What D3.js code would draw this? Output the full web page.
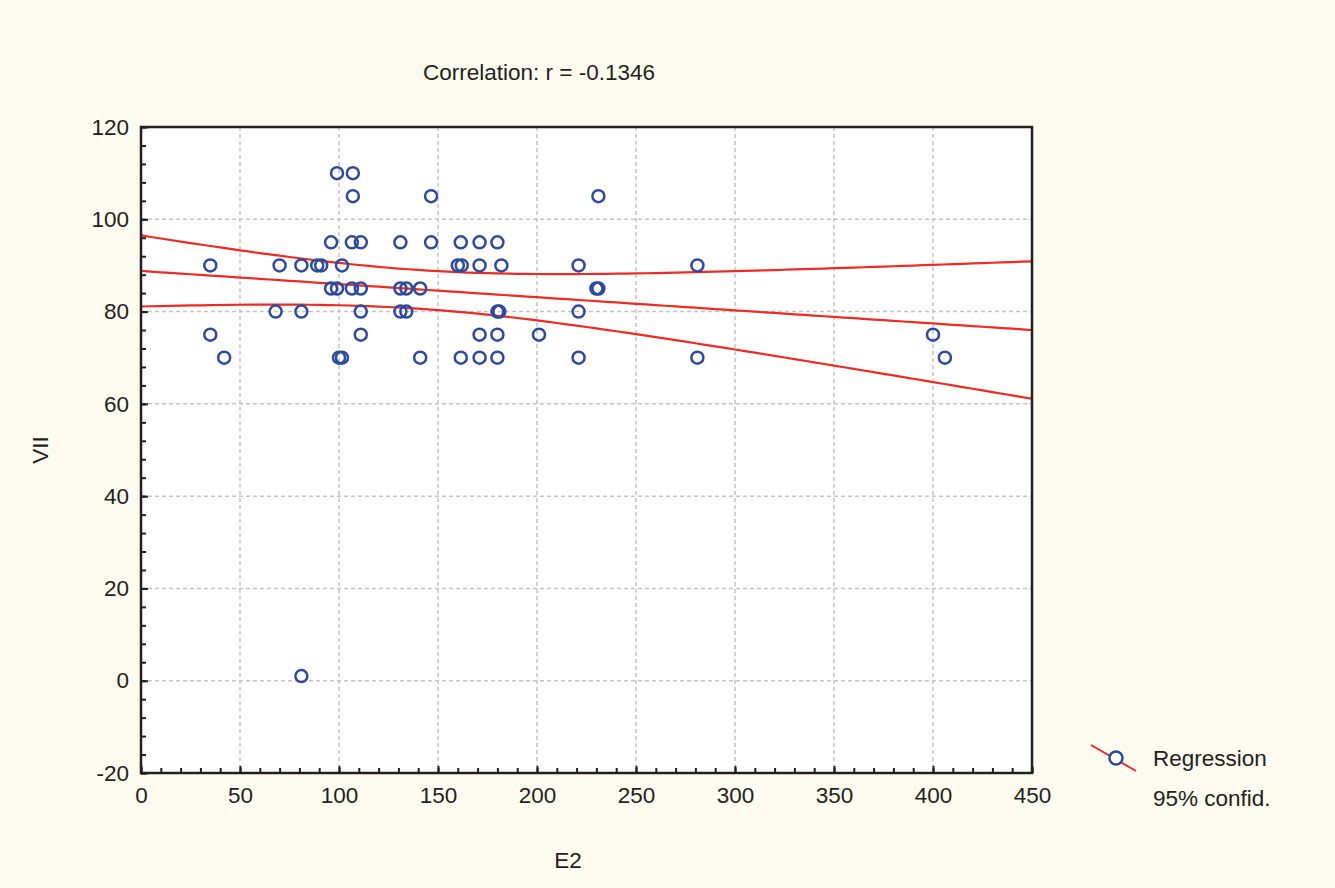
<!DOCTYPE html>
<html>
<head>
<meta charset="utf-8">
<script src="https://cdn.jsdelivr.net/npm/d3@7"></script>
<style>
  body { margin: 0; background: #fdfbef; }
  text { font-family: "Liberation Sans", Arial, sans-serif; fill: #231f20; }
</style>
</head>
<body>
<svg id="chart" width="1335" height="888"></svg>
<script>
'use strict';

// E2 values grouped by VII level
var VII_LEVELS = [110, 105, 95, 90, 85, 80, 75, 70, 1];
var E2_BY_LEVEL = [
    [99, 107],
    [107, 146.5, 231],
    [96, 106.5, 111, 131, 146.5, 161.5, 171, 180],
    [35, 70, 81, 89, 91, 101.5, 160, 162, 171, 182, 221, 281],
    [96, 99, 106.5, 111, 131, 134, 141, 230, 231],
    [68, 81, 111, 131, 134, 180, 181, 221],
    [35, 111, 171, 180, 201, 400],
    [42, 100, 101.5, 141, 161.5, 171, 180, 221, 281, 406],
    [81]
];
var X_TICKS = [0, 50, 100, 150, 200, 250, 300, 350, 400, 450];
var Y_TICKS = [-20, 0, 20, 40, 60, 80, 100, 120];
var TITLE = 'Correlation: r = -0.1346';

// regression line: VII at E2 = 0 and at E2 = 450
var FIT_ENDS = [88.8, 76.0];
// confidence band: narrowest half-width, where it is narrowest, half-width at E2 = 0
var BAND_MIN_HALF = 4.2, BAND_NARROW_AT = 140, BAND_HALF_AT0 = 7.7;

var points = [];
VII_LEVELS.forEach(function(lv, i) {
    E2_BY_LEVEL[i].forEach(function(e) { points.push({x: e, y: lv}); });
});

var margin = {left: 141, top: 127, right: 303, bottom: 115},
    W = 1335, H = 888,
    pw = W - margin.left - margin.right,
    ph = H - margin.top - margin.bottom;

var svg = d3.select('#chart');
svg.append('rect').attr('width', W).attr('height', H).attr('fill', '#fdfbef');

var g = svg.append('g').attr('transform', 'translate(' + margin.left + ',' + margin.top + ')');
var x = d3.scaleLinear().domain([0, 450]).range([0, pw]);
var y = d3.scaleLinear().domain([-20, 120]).range([ph, 0]);
var fit = d3.scaleLinear().domain([0, 450]).range(FIT_ENDS);

g.append('rect').attr('width', pw).attr('height', ph).attr('fill', '#fff');

// grid
g.selectAll('.gx').data(X_TICKS.slice(1, -1)).enter().append('line')
    .attr('x1', x).attr('x2', x).attr('y1', 0).attr('y2', ph)
    .attr('stroke', '#c4c4c4').attr('stroke-width', 1.5).attr('stroke-dasharray', '4,3');
g.selectAll('.gy').data(Y_TICKS.slice(1, -1)).enter().append('line')
    .attr('y1', y).attr('y2', y).attr('x1', 0).attr('x2', pw)
    .attr('stroke', '#c4c4c4').attr('stroke-width', 1.5).attr('stroke-dasharray', '4,3');

// regression + 95% band (hyperbolic shape)
var k = (BAND_HALF_AT0 * BAND_HALF_AT0 - BAND_MIN_HALF * BAND_MIN_HALF) / (BAND_NARROW_AT * BAND_NARROW_AT);
var xs = d3.range(0, 451, 5);
function band(sign) {
    return xs.map(function(v) {
        var d = v - BAND_NARROW_AT;
        return [v, fit(v) + sign * Math.sqrt(BAND_MIN_HALF * BAND_MIN_HALF + k * d * d)];
    });
}
var line = d3.line().x(function(d) { return x(d[0]); }).y(function(d) { return y(d[1]); });
[band(0), band(1), band(-1)].forEach(function(d) {
    g.append('path').attr('d', line(d)).attr('fill', 'none')
        .attr('stroke', '#ee2a24').attr('stroke-width', 2.2);
});

// points
g.selectAll('.pt').data(points).enter().append('circle')
    .attr('cx', function(d) { return x(d.x); })
    .attr('cy', function(d) { return y(d.y); })
    .attr('r', 6).attr('fill', 'none')
    .attr('stroke', '#2e4a9e').attr('stroke-width', 2.5);

// frame
g.append('rect').attr('width', pw).attr('height', ph).attr('fill', 'none')
    .attr('stroke', '#231f20').attr('stroke-width', 2.5);

// axes with inward ticks
var xAxis = d3.axisBottom(x).tickValues(X_TICKS).tickSize(-7).tickPadding(14).tickFormat(String);
var yAxis = d3.axisLeft(y).tickValues(Y_TICKS).tickSize(-7).tickPadding(12).tickFormat(String);
g.append('g').attr('transform', 'translate(0,' + ph + ')').call(xAxis);
g.append('g').call(yAxis);
g.append('g').attr('transform', 'translate(0,' + ph + ')')
    .call(d3.axisBottom(x).tickValues(d3.range(0, 451, 10)).tickSize(-5).tickFormat(''));
g.append('g').call(d3.axisLeft(y).tickValues(d3.range(-20, 121, 4)).tickSize(-5).tickFormat(''));
g.selectAll('.domain').remove();
g.selectAll('.tick line').attr('stroke', '#231f20').attr('stroke-width', 2);
g.selectAll('.tick text').attr('font-size', 22.5).style('fill', '#231f20');

// titles
svg.append('text').attr('x', 539).attr('y', 80)
    .attr('text-anchor', 'middle').attr('font-size', 22.5).text(TITLE);
svg.append('text').attr('x', 568).attr('y', 868)
    .attr('text-anchor', 'middle').attr('font-size', 22.5).text('E2');
svg.append('text').attr('transform', 'translate(48,' + (margin.top + ph / 2) + ') rotate(-90)')
    .attr('text-anchor', 'middle').attr('font-size', 22.5).text('VII');

// legend
var lg = svg.append('g').attr('transform', 'translate(1116,758)');
lg.append('line').attr('x1', -25).attr('y1', -13).attr('x2', 20).attr('y2', 13)
    .attr('stroke', '#ee2a24').attr('stroke-width', 2);
lg.append('circle').attr('r', 6.5).attr('fill', '#fff')
    .attr('stroke', '#2e4a9e').attr('stroke-width', 2.5);
lg.append('text').attr('x', 37).attr('y', 8).attr('font-size', 22.5).text('Regression');
lg.append('text').attr('x', 37).attr('y', 48).attr('font-size', 22.5).text('95% confid.');
</script>
</body>
</html>
